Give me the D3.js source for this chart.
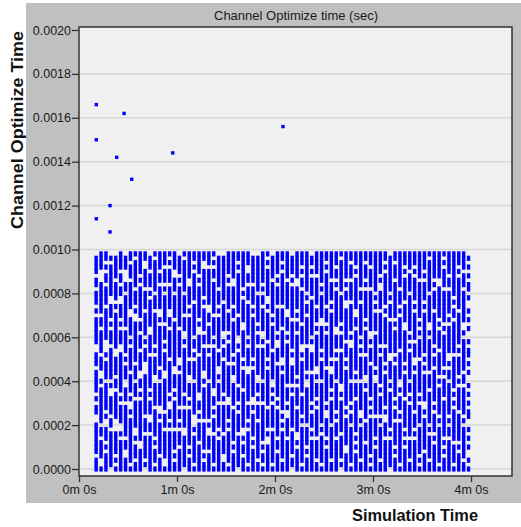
<!DOCTYPE html>
<html>
<head>
<meta charset="utf-8">
<script src="https://cdnjs.cloudflare.com/ajax/libs/d3/7.8.5/d3.min.js"></script>
<style>
  body { margin: 0; background: #fff; }
  svg { display: block; }
</style>
</head>
<body>
<div class="chart"></div>
<script>
// axis ticks
var yTicks = [0.0000, 0.0002, 0.0004, 0.0006, 0.0008, 0.0010, 0.0012, 0.0014, 0.0016, 0.0018, 0.0020];
var xTicks = [0, 60, 120, 180, 240];
var xTickLabels = ["0m 0s", "1m 0s", "2m 0s", "3m 0s", "4m 0s"];

// the few samples above 0.001 sec (time in sec, value in sec)
var outlierTimes  = [10.6, 10.6, 10.6, 19.0, 19.0, 23.1, 27.6, 32.3, 57.4, 124.9];
var outlierValues = [0.00166, 0.00150, 0.00114, 0.00108, 0.00120, 0.00142, 0.00162, 0.00132, 0.00144, 0.00156];

// dense block : one column per sample time, one char per value level (bottom -> top), '#' = sample
var blockTimes = [10.5, 13.5, 16.5, 19.5, 22.5, 25.5, 28.5, 31.5, 34.5, 37.5, 40.5, 43.5, 46.5, 49.5, 52.5, 55.5,
  58.5, 61.5, 64.5, 67.5, 70.5, 73.5, 76.5, 79.5, 82.5, 85.5, 88.5, 91.5, 94.5, 97.5, 100.5, 103.5, 106.5, 109.5,
  112.5, 115.5, 118.5, 121.5, 124.5, 127.5, 130.5, 133.5, 136.5, 139.5, 142.5, 145.5, 148.5, 151.5, 154.5, 157.5,
  160.5, 163.5, 166.5, 169.5, 172.5, 175.5, 178.5, 181.5, 184.5, 187.5, 190.5, 193.5, 196.5, 199.5, 202.5, 205.5,
  208.5, 211.5, 214.5, 217.5, 220.5, 223.5, 226.5, 229.5, 232.5, 235.5, 238.5];
var blockLevels = [0.00000, 0.00002, 0.00004, 0.00006, 0.00008, 0.00010, 0.00012, 0.00014, 0.00016, 0.00018,
  0.00020, 0.00022, 0.00024, 0.00026, 0.00028, 0.00030, 0.00032, 0.00034, 0.00036, 0.00038,
  0.00040, 0.00042, 0.00044, 0.00046, 0.00048, 0.00050, 0.00052, 0.00054, 0.00056, 0.00058,
  0.00060, 0.00062, 0.00064, 0.00066, 0.00068, 0.00070, 0.00072, 0.00074, 0.00076, 0.00078,
  0.00080, 0.00082, 0.00084, 0.00086, 0.00088, 0.00090, 0.00092, 0.00094, 0.00096, 0.00098];
var blockColumns = [
  "###.#######..##.#.#####.###..######.#.###.##.####",
  "#..####.##.########.#..###.#####.##.#######...####",
  "####.#.###..#.######.####.#...#######.####.##.#.##",
  ".########.##.####..#.#######.###.#.###..#######.#",
  "#.#.#####...######.##.####..########.#.####.#####.",
  "#######.#..####.#.#########..###.#.###..##.##.####",
  "###..##.#######.###..###.#.#####.#######.##...###",
  "#.##########.#..#.####.#####.#.####..######.###.##",
  "##.###.#..######.###.###.#########..#.###.######.#",
  "#####..#########.#.##..####.###.##.#######.#.#####",
  ".#.#####.###.#########...###.#.#####.####.####..##",
  "########.##..###.#.#######.####..######.#.###.###.",
  "#.###.#.######.#####..####.#.#######.###.#######.#",
  "###.#######.#..#####.##.#########.#..#####.##.####",
  "#..######.###.#######..####.#.###.######.#.###.###",
  "#########.#.##..#.#######.######.##..#####.###.#.#",
  "##.#.####.######.#.###..##########.#####.###..####",
  "#####.###.#.##.#######.#..######.#########.#.####.",
  ".#######..####.##.##########.#..###.####.#######.#",
  "###.#.########.#.###..###.#########.#.####..######",
  "#.######.#...#######.####.#.##.#######.######.#.##",
  "######.####.#.##..########.####..#.#######.#.#####",
  "##.#.######.#######.#..#####.##.#####.#.######..##",
  "####.###..#.########.#####.#.####.##..########.###",
  "#.######.###.#.##..#########.#.####.#######.##.#.#",
  "#######.#.#####.####.#..###.#######.#.###.#######.",
  "##..####.######.#.#######.##.#..######.##########.",
  "#.#######.#.###..#######.####.#.####.#####.#.#####",
  "####.#.#######.#####..##.#.#######.##.####..######",
  ".#######.####.#.###.#######.#..####.#########.#.##",
  "###.##.#..########.####.#.######..#####.#.########",
  "#.#######.#.###.######..####.#.#######.###.##..###",
  "#####.#.#####.#..######.#.#########.#.####.######.",
  "##.########.###.#.##..######.##.#.######.########.",
  "#.##.#.########.####.#######.#..#####.##.#.#######",
  "######..#.####.########.#.###.######.#..######.#.#",
  "#.#######.#####.#.#..######.#####.#.#######.#####.",
  "####.##.######.#.#######.###..#.#####.####.#.#####",
  "##.######.#.#.########.#..######.####.#######.#.##",
  "#######.####..#.###.#########.#.###..######.######",
  ".##.#####.#######.#.####..#.######.#######.#.####",
  "#####.#..#####.####.#.#########.##.#.#####..######",
  "#.########.#.####.#######.#..####.#######.##.#.###",
  "###.#.####.########..#.#####.######.##.#.#########",
  "#######.#.###.#.######.####..#.########.####.#.##.",
  "##.####.######.#.###.#..#######.#.###.######.#####",
  "#.######.#.#########.####.#.#####..#####.#.#######",
  "#####.#.####..#.#######.#######.#.###.#######.#.##",
  "##.#######.#####.#.###..#.##########.#.####.######",
  "#######.###.#.######.####.#.###..########.#.##.###",
  ".#.#####.#######.#..#######.###.#.######.#######.#",
  "####..######.#.########.#.###.#######..##.#.######",
  "#.########.##.#.####.#######..#.######.####.###.##",
  "####.#.#.#######.###.#.#########.##..#######.#.###",
  "##.#######.#..######.#####.#.#.#######.##.########",
  "######.####.######.#..####.#####.#.######.#.###.##",
  "#.#.########.#.#.#######.###.#..#########.####.###",
  "#####.#.####.#######..#.#######.####.#.#.#########",
  "##.#######.#.####.#.######.#.#######.####..#.#####",
  "#######.###..#.#######.#.###.######.#.#######.#.##",
  ".######.#.########.#.####..#######.###.#.########.",
  "###.#.#####.##.#.#######.#.#####.#.########.###.##",
  "#.#########.#.###.#..######.#######.#.###.########",
  "#####.#.#.######.#####.#.#######..####.#####.#.###",
  "##.####.#######.#.##.######.#.#.########.####.####",
  "#######.#.###.########.#..###.######.#.#####.#.###",
  "#.#.######.####.#.#######.####.#.#.########.######",
  "####.#######.#..######.#.#.#########.#.####.#.####",
  "##.#####.#.#######.###.#######.#..######.#######.#",
  "######.#.####.#.#######.##.#.#######.####.#.######",
  "#.########.#.######.#.#####.####.#.#######..######",
  "###.#.#.########.####.#.#######.#.#######.####.#.#",
  "#######.##.#.#######.##.#..######.#.#####.##.#####",
  "#.####.#######.#.#.#######.#######.##.#.##########",
  "####.#.######.#####.#.####.#.#######.#######.#.###",
  "##.#######.#.######.##.#######.#..#######.###.####",
  "#.#..#.#.#..##.#.#.#..#.#.##.#..#.#.#..#.##.#.#.#."
];

var plot = { left: 79, top: 27, right: 512, bottom: 476 };
var font = "'Liberation Sans', Arial, sans-serif";

var svg = d3.select(".chart").append("svg")
  .attr("width", 521)
  .attr("height", 527);

// grey panel and plot background
svg.append("rect")
  .attr("x", 26).attr("y", 3)
  .attr("width", 495).attr("height", 500)
  .attr("fill", "#c0c0c0");

svg.append("rect")
  .attr("x", plot.left).attr("y", plot.top)
  .attr("width", plot.right - plot.left).attr("height", plot.bottom - plot.top)
  .attr("fill", "#f0f0f0");

var x = d3.scaleLinear().domain([0, 240]).range([79, 471]);
var y = d3.scaleLinear().domain([0, 0.002]).range([469, 30]);

// horizontal grid
svg.append("g").selectAll("line")
  .data(yTicks.slice(0, -1))
  .enter().append("line")
  .attr("x1", plot.left + 1).attr("x2", plot.right - 1)
  .attr("y1", function(d) { return y(d); })
  .attr("y2", function(d) { return y(d); })
  .attr("stroke", "#d6d6d6")
  .attr("stroke-width", 1.5);

// flatten the block into points
var points = [];
blockColumns.forEach(function(col, i) {
  for (var j = 0; j < col.length && j < blockLevels.length; j++) {
    if (col[j] === "#") points.push({ t: blockTimes[i], v: blockLevels[j] });
  }
});
var rowH = y(0) - y(blockLevels[1]);

svg.append("g").selectAll("rect")
  .data(points)
  .enter().append("rect")
  .attr("x", function(d) { return x(d.t) - 1.7; })
  .attr("y", function(d) { return y(d.v) - rowH / 2 - 0.4; })
  .attr("width", 3.4)
  .attr("height", rowH + 0.8)
  .attr("fill", "#0000ff");

svg.append("g").selectAll("rect")
  .data(outlierTimes)
  .enter().append("rect")
  .attr("x", function(d) { return x(d) - 1.7; })
  .attr("y", function(d, i) { return y(outlierValues[i]) - 1.7; })
  .attr("width", 3.4)
  .attr("height", 3.4)
  .attr("fill", "#0000ff");

// frame
svg.append("rect")
  .attr("x", plot.left).attr("y", plot.top)
  .attr("width", plot.right - plot.left).attr("height", plot.bottom - plot.top)
  .attr("fill", "none")
  .attr("stroke", "#333")
  .attr("stroke-width", 1.5);

var yAxis = svg.append("g")
  .attr("transform", "translate(" + plot.left + ",0)")
  .call(d3.axisLeft(y).tickValues(yTicks).tickFormat(d3.format(".4f")).tickSize(7).tickSizeOuter(0).tickPadding(1));

var xAxis = svg.append("g")
  .attr("transform", "translate(0," + plot.bottom + ")")
  .call(d3.axisBottom(x).tickValues(xTicks).tickFormat(function(d, i) { return xTickLabels[i]; }).tickSize(6).tickSizeOuter(0).tickPadding(3));

[yAxis, xAxis].forEach(function(a) {
  a.select(".domain").remove();
  a.selectAll(".tick line").attr("stroke", "#333").attr("stroke-width", 1.3);
  a.selectAll(".tick text")
    .attr("fill", "#1a1a1a")
    .style("font-family", font)
    .style("font-size", "12.5px");
});

// title and axis names
svg.append("text")
  .attr("x", 296).attr("y", 20)
  .attr("text-anchor", "middle")
  .style("font-family", font)
  .style("font-size", "13px")
  .attr("fill", "#1a1a1a")
  .text("Channel Optimize time (sec)");

svg.append("text")
  .attr("transform", "translate(23,130) rotate(-90)")
  .attr("text-anchor", "middle")
  .attr("textLength", 198)
  .attr("lengthAdjust", "spacingAndGlyphs")
  .style("font-family", font)
  .style("font-size", "17px")
  .style("font-weight", "bold")
  .attr("fill", "#111")
  .text("Channel Optimize Time");

svg.append("text")
  .attr("x", 415).attr("y", 521)
  .attr("text-anchor", "middle")
  .attr("textLength", 126)
  .attr("lengthAdjust", "spacingAndGlyphs")
  .style("font-family", font)
  .style("font-size", "17px")
  .style("font-weight", "bold")
  .attr("fill", "#111")
  .text("Simulation Time");
</script>
</body>
</html>
